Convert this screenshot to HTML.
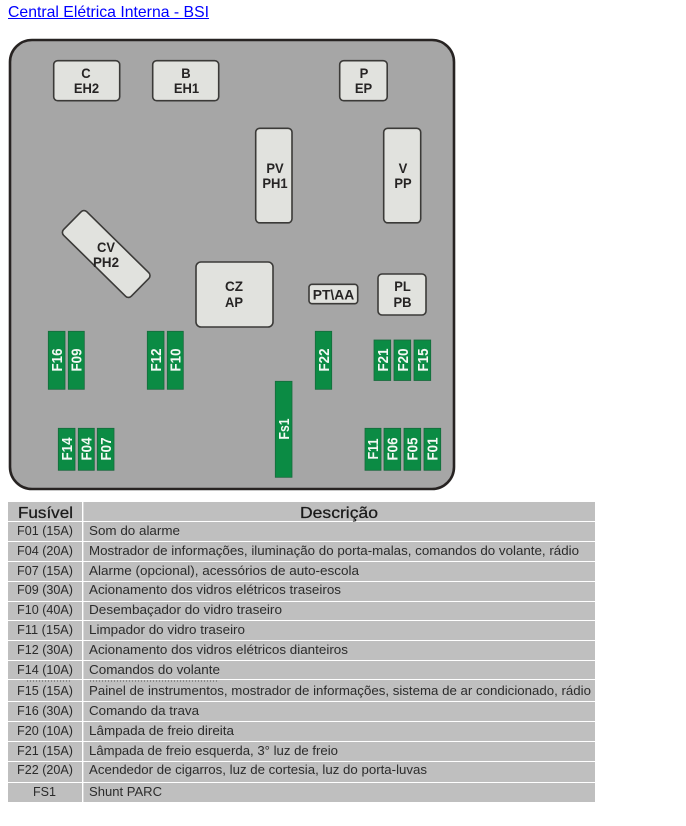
<!DOCTYPE html>
<html><head><meta charset="utf-8"><style>
html,body{margin:0;padding:0;background:#fff;width:686px;height:826px;overflow:hidden}
svg{display:block}
text{font-family:"Liberation Sans",Arial,sans-serif}
.b{fill:#e1e2de;stroke:#3b3a38;stroke-width:1.6}
.l{font-size:14px;font-weight:bold;fill:#262424;text-anchor:middle}
.f{fill:#0b8b44;stroke:#17693c;stroke-width:.8}
.w{font-size:15px;font-weight:bold;fill:#f4f8f4;text-anchor:middle}
.t{font-size:13px;fill:#2b2b2b}
.c{font-size:12.5px;fill:#2b2b2b}
</style></head><body>
<svg width="686" height="826" viewBox="0 0 686 826" xmlns="http://www.w3.org/2000/svg">
<text x="8" y="17" font-size="16" fill="#0000ff" textLength="201" lengthAdjust="spacingAndGlyphs">Central Elétrica Interna - BSI</text>
<rect x="8" y="18" width="201" height="1" fill="#0000ff"/>

<rect x="10" y="40" width="444" height="449" rx="22" ry="22" fill="#a6a6a6" stroke="#272322" stroke-width="2.6"/>

<rect class="b" x="53.7" y="60.7" width="66" height="40" rx="4"/>
<rect class="b" x="152.7" y="60.7" width="66" height="40" rx="4"/>
<rect class="b" x="339.7" y="60.7" width="47.5" height="40" rx="4"/>
<rect class="b" x="255.7" y="128.3" width="36.3" height="94.5" rx="4"/>
<rect class="b" x="383.7" y="128.3" width="37" height="94.5" rx="4"/>
<rect class="b" x="58.7" y="237.5" width="95" height="33" rx="4" transform="rotate(44.5 106.2 254)"/>
<rect class="b" x="196" y="262" width="77" height="65" rx="5"/>
<rect class="b" x="309" y="284.3" width="48.7" height="19.4" rx="3"/>
<rect class="b" x="378" y="274" width="48" height="41" rx="4"/>

<g lengthAdjust="spacingAndGlyphs">
<text class="l" x="86" y="78" textLength="9.4" lengthAdjust="spacingAndGlyphs">C</text><text class="l" x="86.5" y="93" textLength="25.3" lengthAdjust="spacingAndGlyphs">EH2</text>
<text class="l" x="186" y="78" textLength="9.4" lengthAdjust="spacingAndGlyphs">B</text><text class="l" x="186.5" y="93" textLength="25.3" lengthAdjust="spacingAndGlyphs">EH1</text>
<text class="l" x="364" y="78" textLength="8.7" lengthAdjust="spacingAndGlyphs">P</text><text class="l" x="363.5" y="93" textLength="17.3" lengthAdjust="spacingAndGlyphs">EP</text>
<text class="l" x="275" y="173" textLength="17.3" lengthAdjust="spacingAndGlyphs">PV</text><text class="l" x="275" y="188" textLength="25.3" lengthAdjust="spacingAndGlyphs">PH1</text>
<text class="l" x="403" y="173" textLength="8.7" lengthAdjust="spacingAndGlyphs">V</text><text class="l" x="403" y="188" textLength="17.3" lengthAdjust="spacingAndGlyphs">PP</text>
<text class="l" x="106" y="252" textLength="18" lengthAdjust="spacingAndGlyphs">CV</text><text class="l" x="106" y="267" textLength="26" lengthAdjust="spacingAndGlyphs">PH2</text>
<text class="l" x="234" y="291" textLength="18" lengthAdjust="spacingAndGlyphs">CZ</text><text class="l" x="234" y="307" textLength="18" lengthAdjust="spacingAndGlyphs">AP</text>
<text class="l" x="333.5" y="299.3" textLength="41.5" lengthAdjust="spacingAndGlyphs">PT\AA</text>
<text class="l" x="402.5" y="291" textLength="16.5" lengthAdjust="spacingAndGlyphs">PL</text><text class="l" x="402.5" y="307" textLength="18" lengthAdjust="spacingAndGlyphs">PB</text>
</g>

<g>
<rect class="f" x="48.3" y="331.3" width="16.7" height="58"/>
<rect class="f" x="68.3" y="331.3" width="16" height="58"/>
<rect class="f" x="147.3" y="331.3" width="16.7" height="58"/>
<rect class="f" x="167.3" y="331.3" width="16" height="58"/>
<rect class="f" x="315.3" y="331.3" width="16.4" height="58"/>
<rect class="f" x="374" y="340" width="16.7" height="40.5"/>
<rect class="f" x="394" y="340" width="16.7" height="40.5"/>
<rect class="f" x="414" y="340" width="16.7" height="40.5"/>
<rect class="f" x="58.3" y="428.3" width="16.7" height="42"/>
<rect class="f" x="78.3" y="428.3" width="16" height="42"/>
<rect class="f" x="97.3" y="428.3" width="16.7" height="42"/>
<rect class="f" x="365" y="428.3" width="16" height="42"/>
<rect class="f" x="384" y="428.3" width="16.7" height="42"/>
<rect class="f" x="404" y="428.3" width="16.7" height="42"/>
<rect class="f" x="424" y="428.3" width="16.7" height="42"/>
<rect class="f" x="275.3" y="381.3" width="16.7" height="96"/>
</g>
<g>
<text class="w" transform="translate(62 360) rotate(-90)" textLength="23" lengthAdjust="spacingAndGlyphs">F16</text>
<text class="w" transform="translate(81.5 360) rotate(-90)" textLength="23" lengthAdjust="spacingAndGlyphs">F09</text>
<text class="w" transform="translate(161 360) rotate(-90)" textLength="23" lengthAdjust="spacingAndGlyphs">F12</text>
<text class="w" transform="translate(180.5 360) rotate(-90)" textLength="23" lengthAdjust="spacingAndGlyphs">F10</text>
<text class="w" transform="translate(329 360) rotate(-90)" textLength="23" lengthAdjust="spacingAndGlyphs">F22</text>
<text class="w" transform="translate(388 360) rotate(-90)" textLength="23" lengthAdjust="spacingAndGlyphs">F21</text>
<text class="w" transform="translate(408 360) rotate(-90)" textLength="23" lengthAdjust="spacingAndGlyphs">F20</text>
<text class="w" transform="translate(428 360) rotate(-90)" textLength="23" lengthAdjust="spacingAndGlyphs">F15</text>
<text class="w" transform="translate(72 449) rotate(-90)" textLength="23" lengthAdjust="spacingAndGlyphs">F14</text>
<text class="w" transform="translate(91.5 449) rotate(-90)" textLength="23" lengthAdjust="spacingAndGlyphs">F04</text>
<text class="w" transform="translate(111 449) rotate(-90)" textLength="23" lengthAdjust="spacingAndGlyphs">F07</text>
<text class="w" transform="translate(378 449) rotate(-90)" textLength="21" lengthAdjust="spacingAndGlyphs">F11</text>
<text class="w" transform="translate(397.5 449) rotate(-90)" textLength="23" lengthAdjust="spacingAndGlyphs">F06</text>
<text class="w" transform="translate(417.5 449) rotate(-90)" textLength="23" lengthAdjust="spacingAndGlyphs">F05</text>
<text class="w" transform="translate(437.5 449) rotate(-90)" textLength="23" lengthAdjust="spacingAndGlyphs">F01</text>
<text class="w" transform="translate(289 429) rotate(-90)" textLength="21" lengthAdjust="spacingAndGlyphs">Fs1</text>
</g>

<rect x="8" y="502" width="587" height="300" fill="#bfbfbf"/>
<rect x="82" y="502" width="1.4" height="300" fill="#fff"/>
<g fill="#fff">
<rect x="8" y="521" width="587" height="1"/><rect x="8" y="541" width="587" height="1"/>
<rect x="8" y="561" width="587" height="1"/><rect x="8" y="581" width="587" height="1"/>
<rect x="8" y="601" width="587" height="1"/><rect x="8" y="620" width="587" height="1"/>
<rect x="8" y="640" width="587" height="1"/><rect x="8" y="660" width="587" height="1"/>
<rect x="8" y="679" width="587" height="1"/><rect x="8" y="701" width="587" height="1"/>
<rect x="8" y="721" width="587" height="1"/><rect x="8" y="741" width="587" height="1"/>
<rect x="8" y="761" width="587" height="1"/><rect x="8" y="782" width="587" height="1"/>
</g>
<line x1="27" y1="681" x2="72" y2="681" stroke="#555" stroke-width="1" stroke-dasharray="1 2"/>
<line x1="90" y1="681" x2="218" y2="681" stroke="#555" stroke-width="1" stroke-dasharray="1 2"/>

<text x="18" y="518" font-size="16" fill="#1a1a1a" stroke="#1a1a1a" stroke-width=".25" textLength="55" lengthAdjust="spacingAndGlyphs">Fusível</text>
<text x="300" y="518" font-size="16" fill="#1a1a1a" stroke="#1a1a1a" stroke-width=".25" textLength="78" lengthAdjust="spacingAndGlyphs">Descrição</text>

<g class="c">
<text class="c" x="17" y="535" textLength="56" lengthAdjust="spacingAndGlyphs">F01 (15A)</text>
<text class="c" x="17" y="555" textLength="56" lengthAdjust="spacingAndGlyphs">F04 (20A)</text>
<text class="c" x="17" y="575" textLength="56" lengthAdjust="spacingAndGlyphs">F07 (15A)</text>
<text class="c" x="17" y="594" textLength="56" lengthAdjust="spacingAndGlyphs">F09 (30A)</text>
<text class="c" x="17" y="614" textLength="56" lengthAdjust="spacingAndGlyphs">F10 (40A)</text>
<text class="c" x="17" y="634" textLength="56" lengthAdjust="spacingAndGlyphs">F11 (15A)</text>
<text class="c" x="17" y="654" textLength="56" lengthAdjust="spacingAndGlyphs">F12 (30A)</text>
<text class="c" x="17" y="674" textLength="56" lengthAdjust="spacingAndGlyphs">F14 (10A)</text>
<text class="c" x="17" y="695" textLength="56" lengthAdjust="spacingAndGlyphs">F15 (15A)</text>
<text class="c" x="17" y="715" textLength="56" lengthAdjust="spacingAndGlyphs">F16 (30A)</text>
<text class="c" x="17" y="735" textLength="56" lengthAdjust="spacingAndGlyphs">F20 (10A)</text>
<text class="c" x="17" y="755" textLength="56" lengthAdjust="spacingAndGlyphs">F21 (15A)</text>
<text class="c" x="17" y="774" textLength="56" lengthAdjust="spacingAndGlyphs">F22 (20A)</text>
<text class="c" x="33" y="796" textLength="23" lengthAdjust="spacingAndGlyphs">FS1</text>
</g>
<g>
<text class="t" x="89" y="535" textLength="91" lengthAdjust="spacingAndGlyphs">Som do alarme</text>
<text class="t" x="89" y="555" textLength="490" lengthAdjust="spacingAndGlyphs">Mostrador de informações, iluminação do porta-malas, comandos do volante, rádio</text>
<text class="t" x="89" y="575" textLength="270" lengthAdjust="spacingAndGlyphs">Alarme (opcional), acessórios de auto-escola</text>
<text class="t" x="89" y="594" textLength="252" lengthAdjust="spacingAndGlyphs">Acionamento dos vidros elétricos traseiros</text>
<text class="t" x="89" y="614" textLength="193" lengthAdjust="spacingAndGlyphs">Desembaçador do vidro traseiro</text>
<text class="t" x="89" y="634" textLength="156" lengthAdjust="spacingAndGlyphs">Limpador do vidro traseiro</text>
<text class="t" x="89" y="654" textLength="259" lengthAdjust="spacingAndGlyphs">Acionamento dos vidros elétricos dianteiros</text>
<text class="t" x="89" y="674" textLength="131" lengthAdjust="spacingAndGlyphs">Comandos do volante</text>
<text class="t" x="89" y="695" textLength="502" lengthAdjust="spacingAndGlyphs">Painel de instrumentos, mostrador de informações, sistema de ar condicionado, rádio</text>
<text class="t" x="89" y="715" textLength="110" lengthAdjust="spacingAndGlyphs">Comando da trava</text>
<text class="t" x="89" y="735" textLength="145" lengthAdjust="spacingAndGlyphs">Lâmpada de freio direita</text>
<text class="t" x="89" y="755" textLength="249" lengthAdjust="spacingAndGlyphs">Lâmpada de freio esquerda, 3° luz de freio</text>
<text class="t" x="89" y="774" textLength="338" lengthAdjust="spacingAndGlyphs">Acendedor de cigarros, luz de cortesia, luz do porta-luvas</text>
<text class="t" x="89" y="796" textLength="73" lengthAdjust="spacingAndGlyphs">Shunt PARC</text>
</g>
</svg>
</body></html>
